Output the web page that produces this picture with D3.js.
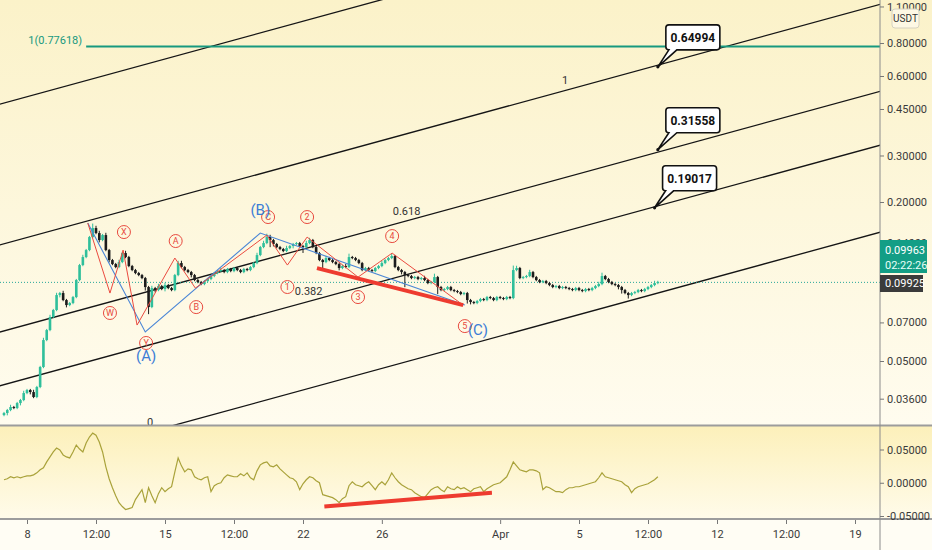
<!DOCTYPE html>
<html>
<head>
<meta charset="utf-8">
<script src="https://cdnjs.cloudflare.com/ajax/libs/d3/7.8.5/d3.min.js"></script>
<style>
  body { margin: 0; background: #fffdf4; }
  svg { display: block; font-family: Roboto, "DejaVu Sans", sans-serif; }
</style>
</head>
<body>
<div id="chart"></div>
<script>
// ---- data ----
const firstCandle = "2021-03-06 20:00";   // 4h candles, open = previous close
const firstOpen = 0.0312;
const closes = [
  0.03176,0.03260,0.03347,0.03318,0.03465,0.03557,0.03781,0.03881,0.03814,0.03652,
  0.03985,0.04744,0.06002,0.06548,0.07335,0.07796,0.08885,0.09041,0.08506,0.08143,
  0.08287,0.08731,0.10126,0.11541,0.12375,0.13153,0.14732,0.15934,0.15254,0.14351,
  0.14991,0.13153,0.12055,0.11642,0.11342,0.11847,0.12814,0.12375,0.11441,0.11048,
  0.10763,0.10577,0.10304,0.09527,0.08003,0.09444,0.09280,0.09610,0.09363,0.09694,
  0.09444,0.09280,0.10577,0.11744,0.11342,0.11048,0.10857,0.10577,0.10126,0.09951,
  0.09779,0.10038,0.10215,0.10485,0.10763,0.10952,0.11048,0.10857,0.11146,0.10952,
  0.11244,0.11048,0.10857,0.11146,0.11048,0.11342,0.11744,0.12592,0.13502,0.13981,
  0.14732,0.14351,0.13859,0.13502,0.13269,0.13039,0.13385,0.13620,0.13859,0.13981,
  0.13620,0.13502,0.13981,0.14351,0.13502,0.12814,0.12055,0.11847,0.12268,0.12055,
  0.11847,0.11642,0.11244,0.11441,0.11342,0.12375,0.12268,0.12055,0.11744,0.11048,
  0.11244,0.11048,0.10952,0.11244,0.11441,0.11744,0.12055,0.12268,0.12483,0.11342,
  0.11048,0.10857,0.10577,0.10485,0.10304,0.10394,0.10215,0.10304,0.10126,0.09865,
  0.09951,0.10394,0.09527,0.09280,0.09363,0.09527,0.09280,0.09199,0.09120,0.08962,
  0.09041,0.08506,0.08359,0.08287,0.08432,0.08580,0.08506,0.08731,0.08655,0.08506,
  0.08731,0.08655,0.08580,0.08731,0.08655,0.11048,0.11244,0.10304,0.10394,0.10485,
  0.10857,0.10394,0.10126,0.09951,0.10038,0.09865,0.09694,0.09527,0.09610,0.09444,
  0.09527,0.09444,0.09363,0.09280,0.09444,0.09280,0.09199,0.09363,0.09280,0.09444,
  0.09610,0.09779,0.10485,0.10215,0.09951,0.09779,0.09694,0.09527,0.09280,0.09041,
  0.08885,0.09041,0.09120,0.09280,0.09199,0.09363,0.09527,0.09694,0.09865,0.09963
];
// wick length beyond the body, percent of price
const wickUpPct = [
  1,1,2,1,1,1,2,1,1,2, 1,1,2,1,2,1,2,1,2,1, 1,1,1,1,2,1,1,4,2,2, 1,2,1,1,1,2,1,2,1,1,
  1,1,1,1,1,2,1,2,1,2, 1,1,1,2,2,1,1,1,1,1, 1,1,1,1,1,1,2,1,1,1, 1,1,1,1,1,1,1,2,1,2,
  3,2,1,1,1,1,2,1,1,1, 1,1,2,2,1,1,1,1,2,1, 1,1,1,1,2,3,1,1,1,1, 1,1,1,1,1,2,1,1,2,1,
  1,1,1,1,1,1,1,1,2,1, 1,3,1,1,1,1,1,1,1,1, 1,1,1,1,1,1,1,1,1,1, 1,1,1,1,1,4,2,1,1,1,
  2,1,1,1,1,1,1,1,1,1, 1,1,1,1,1,1,1,1,1,1, 1,2,3,1,1,1,1,1,1,1, 1,1,1,1,1,1,1,1,2,1
];
const wickDnPct = [
  1,2,1,1,1,2,1,1,2,1, 1,1,1,1,1,1,1,2,1,2, 1,1,1,1,1,1,1,1,1,2, 1,1,2,1,1,1,1,1,1,1,
  1,1,1,3,6,1,2,1,1,2, 1,1,1,1,1,1,1,2,1,1, 1,1,1,1,1,1,1,1,1,1, 1,1,1,1,1,1,1,1,1,1,
  1,6,2,1,1,1,1,1,2,1, 1,5,1,1,1,1,1,6,1,1, 1,1,2,1,1,1,1,1,1,1, 1,1,1,1,1,1,1,1,1,1,
  1,2,10,1,1,1,1,1,1,1, 1,1,6,1,1,1,1,1,1,1, 1,3,2,1,1,1,1,1,1,1, 1,1,1,1,1,1,1,1,1,1,
  1,1,1,1,1,1,1,1,1,1, 1,1,1,1,1,1,1,1,1,1, 1,1,1,1,1,1,1,2,3,1, 3,1,1,1,1,1,1,1,1,1
];
const oscValues = [
  0.0045,0.0060,0.0090,0.0075,0.0090,0.0075,0.0090,0.0104,0.0104,0.0119,
  0.0149,0.0194,0.0224,0.0313,0.0388,0.0463,0.0522,0.0493,0.0418,0.0388,
  0.0373,0.0463,0.0567,0.0507,0.0463,0.0597,0.0687,0.0746,0.0716,0.0612,
  0.0463,0.0239,0.0060,-0.0075,-0.0194,-0.0299,-0.0358,-0.0403,-0.0388,-0.0373,
  -0.0254,-0.0179,-0.0104,-0.0299,-0.0075,-0.0194,-0.0299,-0.0164,-0.0075,-0.0134,
  -0.0090,-0.0060,0.0164,0.0373,0.0254,0.0164,0.0209,0.0194,0.0090,0.0060,
  0.0045,0.0075,0.0090,-0.0134,-0.0045,-0.0015,0.0000,0.0075,0.0119,0.0104,
  0.0090,0.0090,0.0134,0.0104,0.0149,0.0075,0.0045,0.0179,0.0269,0.0299,
  0.0313,0.0254,0.0239,0.0269,0.0209,0.0164,0.0119,0.0075,0.0060,0.0015,
  -0.0104,-0.0015,0.0045,0.0090,0.0075,0.0030,0.0000,-0.0179,-0.0194,-0.0209,
  -0.0224,-0.0254,-0.0299,-0.0239,-0.0209,-0.0045,0.0015,-0.0030,-0.0045,-0.0060,
  -0.0015,0.0015,-0.0045,-0.0104,-0.0030,0.0015,-0.0030,0.0045,0.0149,0.0075,
  0.0015,-0.0030,-0.0060,-0.0090,-0.0104,-0.0149,-0.0179,-0.0209,-0.0224,-0.0164,
  -0.0104,-0.0075,-0.0060,-0.0104,-0.0134,-0.0060,-0.0090,-0.0104,-0.0060,-0.0090,
  -0.0075,-0.0104,-0.0134,-0.0090,-0.0075,-0.0060,-0.0134,-0.0090,-0.0060,-0.0030,
  -0.0015,0.0000,0.0045,0.0090,0.0194,0.0313,0.0254,0.0194,0.0179,0.0164,
  0.0194,0.0194,0.0179,0.0149,-0.0104,-0.0060,-0.0075,-0.0104,-0.0134,-0.0134,
  -0.0149,-0.0104,-0.0075,-0.0075,-0.0060,-0.0060,-0.0045,-0.0030,-0.0015,0.0000,
  0.0015,0.0075,0.0149,0.0090,0.0075,0.0060,0.0045,0.0030,0.0015,-0.0030,
  -0.0060,-0.0149,-0.0090,-0.0060,-0.0045,-0.0030,-0.0015,0.0015,0.0045,0.0090
];

const priceTicks = [1.1, 0.8, 0.6, 0.45, 0.3, 0.2, 0.14, 0.07, 0.05, 0.036];
const oscTicks = [0.05, 0, -0.05];
const timeTicks = ["2021-03-08 00:00","2021-03-11 12:00","2021-03-15 00:00","2021-03-18 12:00",
  "2021-03-22 00:00","2021-03-26 00:00","2021-04-01 00:00","2021-04-05 00:00",
  "2021-04-08 12:00","2021-04-12 00:00","2021-04-15 12:00","2021-04-19 00:00"];
const timeTickLabels = ["8","12:00","15","12:00","22","26","Apr","5","12:00","12","12:00","19"];

// fib channel (log price): level 0 line through two points, width of level 1 in decades
const channelBase = [["2021-03-15 12:00", 0.02861], ["2021-04-19 00:00", 0.1447]];
const channelWidth = 0.863;
const channelLevels = [0, 0.382, 0.618, 1, 1.618];
const labelledLevels = [0, 0.382, 0.618, 1];
const channelLabelTimes = ["2021-03-14 06:00", "2021-04-04 07:00"]; // label of level 0 and level 1

const fibLevelPrice = 0.77618, fibLevelStart = "2021-03-11 00:00";
const lastPrice = 0.09963, markPrice = 0.09925, countdown = "02:22:26";

const calloutValues = [0.64994, 0.31558, 0.19017];
const calloutTimes = ["2021-04-09 00:00", "2021-04-09 00:00", "2021-04-08 20:00"];

const blueWave = [["2021-03-11 02:00",0.1664],["2021-03-14 00:00",0.0644],["2021-03-19 20:00",0.1525],["2021-03-30 05:00",0.0814]];
const redWaveWXY = [["2021-03-11 02:00",0.1664],["2021-03-12 05:00",0.0904],["2021-03-12 21:00",0.1315],["2021-03-13 14:00",0.0684]];
const redWaveABC = [["2021-03-13 14:00",0.0684],["2021-03-15 12:00",0.1227],["2021-03-16 13:00",0.0944],["2021-03-20 04:00",0.1499]];
const redWave15 = [["2021-03-20 04:00",0.1499],["2021-03-21 05:00",0.1154],["2021-03-22 05:00",0.1473],["2021-03-24 19:00",0.1039],["2021-03-26 12:30",0.1281],["2021-03-30 03:00",0.0814]];
const circleLabels = [["W","2021-03-12 05:00",0.0760],["X","2021-03-12 22:00",0.1539],["Y","2021-03-14 01:00",0.0585],
  ["A","2021-03-15 13:00",0.1423],["B","2021-03-16 14:00",0.0800],["C","2021-03-20 05:30",0.1754],
  ["1","2021-03-21 05:00",0.0953],["2","2021-03-22 05:00",0.1754],["3","2021-03-24 19:00",0.0873],
  ["4","2021-03-26 12:30",0.1486],["5","2021-03-30 05:00",0.0678]];
const blueLabels = [["(A)","2021-03-14 01:00",0.0522],["(B)","2021-03-19 20:00",0.1864],["(C)","2021-03-30 21:00",0.0655]];
const priceDivergence = [["2021-03-22 17:00",0.1124],["2021-03-30 03:00",0.0814]];
const oscDivergence = [["2021-03-23 02:00",-0.0358],["2021-03-31 14:00",-0.0149]];

// ---- drawing ----
const W = 932, H = 550, axisX = 880, paneBottom = 425, oscTop = 426, oscBottom = 519;
const parse = d3.utcParse("%Y-%m-%d %H:%M");
const x = d3.scaleUtc().domain([parse("2021-03-08 00:00"), parse("2021-04-19 00:00")]).range([27, 855]);
const y = d3.scaleLog().domain([0.8, 0.2]).range([43, 202]);
const yOsc = d3.scaleLinear().domain([0.05, -0.05]).range([449.5, 516]);

const svg = d3.select("#chart").append("svg").attr("width", W).attr("height", H);
const defs = svg.append("defs");

function grad(id, c1, c2) {
  const g = defs.append("linearGradient").attr("id", id).attr("x1", 0).attr("y1", 0).attr("x2", 0).attr("y2", 1);
  g.append("stop").attr("offset", "0%").attr("stop-color", c1);
  g.append("stop").attr("offset", "100%").attr("stop-color", c2);
}
grad("bgMain", "#fbf2c9", "#fffcef");
grad("bgOsc", "#fcf0ba", "#fffbea");
defs.append("clipPath").attr("id", "clipMain").append("rect").attr("x", 0).attr("y", 0).attr("width", axisX).attr("height", paneBottom);
defs.append("clipPath").attr("id", "clipOsc").append("rect").attr("x", 0).attr("y", oscTop).attr("width", axisX).attr("height", oscBottom - oscTop);

svg.append("rect").attr("width", W).attr("height", H).attr("fill", "#fffdf4");
svg.append("rect").attr("width", W).attr("height", paneBottom).attr("fill", "url(#bgMain)");
svg.append("rect").attr("y", oscTop).attr("width", W).attr("height", oscBottom - oscTop).attr("fill", "url(#bgOsc)");

const main = svg.append("g").attr("clip-path", "url(#clipMain)");

// fib channel
const pA = [x(parse(channelBase[0][0])), y(channelBase[0][1])];
const pB = [x(parse(channelBase[1][0])), y(channelBase[1][1])];
const slope = (pB[1] - pA[1]) / (pB[0] - pA[0]);
const lvlOffset = L => y(channelBase[0][1] * Math.pow(10, channelWidth * L)) - pA[1];
const chanY = (px, L) => pA[1] + slope * (px - pA[0]) + lvlOffset(L);
const lx0 = x(parse(channelLabelTimes[0])), lx1 = x(parse(channelLabelTimes[1]));
channelLevels.forEach(L => {
  main.append("line")
    .attr("x1", -5).attr("y1", chanY(-5, L))
    .attr("x2", axisX + 5).attr("y2", chanY(axisX + 5, L))
    .attr("stroke", "#151515").attr("stroke-width", 1.3);
});
labelledLevels.forEach(L => {
  const lx = lx0 + L * (lx1 - lx0);
  main.append("text")
    .attr("x", lx).attr("y", chanY(lx, L) - 6)
    .attr("text-anchor", "middle")
    .style("font-size", "11px").style("fill", "#333")
    .text(String(L));
});

// fib retracement level
const fy = y(fibLevelPrice);
main.append("line").attr("x1", x(parse(fibLevelStart))).attr("x2", axisX).attr("y1", fy).attr("y2", fy)
  .attr("stroke", "#17997f").attr("stroke-width", 2);
main.append("text").attr("x", x(parse(fibLevelStart)) - 4).attr("y", fy - 2)
  .attr("text-anchor", "end").style("font-size", "11px").style("fill", "#17997f")
  .text("1(" + fibLevelPrice + ")");

// last price dotted line
main.append("line").attr("x1", 0).attr("x2", axisX).attr("y1", y(markPrice)).attr("y2", y(markPrice))
  .attr("stroke", "#26a69a").attr("stroke-width", 1).attr("stroke-dasharray", "1,2");

// candles
const t0 = parse(firstCandle);
const candles = closes.map((c, i) => {
  const open = i === 0 ? firstOpen : closes[i - 1];
  return {
    t: d3.utcHour.offset(t0, 4 * i),
    open, close: c,
    high: Math.max(open, c) * (1 + wickUpPct[i] / 100),
    low: Math.min(open, c) * (1 - wickDnPct[i] / 100)
  };
});
const upCol = "#2fbf9b", dnCol = "#1c1c1c";
const cg = main.selectAll(".candle").data(candles).enter().append("g").attr("class", "candle");
cg.append("line")
  .attr("x1", d => x(d.t)).attr("x2", d => x(d.t))
  .attr("y1", d => y(d.high)).attr("y2", d => y(d.low))
  .attr("stroke", d => d.close >= d.open ? upCol : dnCol).attr("stroke-width", 1);
cg.append("rect")
  .attr("x", d => x(d.t) - 1.3).attr("width", 2.6)
  .attr("y", d => y(Math.max(d.open, d.close)))
  .attr("height", d => Math.max(1, y(Math.min(d.open, d.close)) - y(Math.max(d.open, d.close))))
  .attr("fill", d => d.close >= d.open ? upCol : dnCol);

// wave counts
const waveLine = d3.line().x(d => x(parse(d[0]))).y(d => y(d[1]));
main.append("path").attr("d", waveLine(blueWave)).attr("fill", "none").attr("stroke", "#4a86d6").attr("stroke-width", 1.1);
[redWaveWXY, redWaveABC, redWave15].forEach(w => {
  main.append("path").attr("d", waveLine(w)).attr("fill", "none").attr("stroke", "#ea4a3f").attr("stroke-width", 1);
});
main.append("path").attr("d", waveLine(priceDivergence)).attr("fill", "none")
  .attr("stroke", "#ee3b2f").attr("stroke-width", 4);

circleLabels.forEach(([txt, t, p]) => {
  const cx = x(parse(t)), cy = y(p);
  main.append("circle").attr("cx", cx).attr("cy", cy).attr("r", 6.5)
    .attr("fill", "none").attr("stroke", "#e8493e").attr("stroke-width", 1);
  main.append("text").attr("x", cx).attr("y", cy).attr("dy", "0.35em").attr("text-anchor", "middle")
    .style("font-size", "9px").style("fill", "#e8493e").text(txt);
});
blueLabels.forEach(([txt, t, p]) => {
  main.append("text").attr("x", x(parse(t))).attr("y", y(p)).attr("dy", "0.35em").attr("text-anchor", "middle")
    .style("font-size", "15px").style("fill", "#3b7dd6").text(txt);
});

// callouts
calloutValues.forEach((v, i) => {
  const px = x(parse(calloutTimes[i])), py = y(v);
  const bx = px + 8, by = py - 42, bw = 54, bh = 25;
  const r = 3;
  const path = `M${bx + r},${by} H${bx + bw - r} Q${bx + bw},${by} ${bx + bw},${by + r} V${by + bh - r}
    Q${bx + bw},${by + bh} ${bx + bw - r},${by + bh} H${bx + 11} L${px},${py} L${bx + 3},${by + bh}
    H${bx + r} Q${bx},${by + bh} ${bx},${by + bh - r} V${by + r} Q${bx},${by} ${bx + r},${by} Z`;
  main.append("path").attr("d", path).attr("fill", "#ffffff").attr("stroke", "#111").attr("stroke-width", 1.6);
  main.append("circle").attr("cx", px).attr("cy", py).attr("r", 1.6).attr("fill", "#111");
  main.append("text").attr("x", bx + bw / 2).attr("y", by + bh / 2).attr("dy", "0.36em")
    .attr("text-anchor", "middle").style("font-size", "12px").style("font-weight", "bold")
    .style("fill", "#111").text(v.toFixed(5));
});

// oscillator pane
const osc = svg.append("g").attr("clip-path", "url(#clipOsc)");
osc.append("path")
  .attr("d", d3.line().x((d, i) => x(d3.utcHour.offset(t0, 4 * i))).y(d => yOsc(d))(oscValues))
  .attr("fill", "none").attr("stroke", "#a9a23a").attr("stroke-width", 1.2);
osc.append("path")
  .attr("d", d3.line().x(d => x(parse(d[0]))).y(d => yOsc(d[1]))(oscDivergence))
  .attr("fill", "none").attr("stroke", "#ee3b2f").attr("stroke-width", 4);

// pane separators and price axis line
svg.append("line").attr("x1", 0).attr("x2", W).attr("y1", paneBottom + 0.5).attr("y2", paneBottom + 0.5)
  .attr("stroke", "#9c9c9c").attr("stroke-width", 2);
svg.append("line").attr("x1", 0).attr("x2", W).attr("y1", oscBottom).attr("y2", oscBottom)
  .attr("stroke", "#9c9c9c").attr("stroke-width", 2);
svg.append("line").attr("x1", axisX).attr("x2", axisX).attr("y1", 0).attr("y2", H)
  .attr("stroke", "#8c8c8c").attr("stroke-width", 1);

function styleAxis(g) {
  g.select(".domain").remove();
  g.selectAll(".tick line").attr("stroke", "#777");
  g.selectAll(".tick text").style("font-size", "11px").style("fill", "#3a3a3a").style("font-family", "Roboto, sans-serif");
}
svg.append("g").attr("transform", `translate(${axisX},0)`)
  .call(d3.axisRight(y).tickValues(priceTicks).tickFormat(d3.format(".5f")).tickSize(4).tickPadding(3))
  .call(styleAxis);
svg.append("g").attr("transform", `translate(${axisX},0)`)
  .call(d3.axisRight(yOsc).tickValues(oscTicks).tickFormat(d => d3.format(".5f")(d).replace("−", "-")).tickSize(4).tickPadding(3))
  .call(styleAxis);
const tickDates = timeTicks.map(parse);
svg.append("g").attr("transform", `translate(0,${oscBottom + 1})`)
  .call(d3.axisBottom(x).tickValues(tickDates).tickFormat((d, i) => timeTickLabels[i]).tickSize(4).tickPadding(6))
  .call(styleAxis);

// USDT badge
svg.append("rect").attr("x", 892).attr("y", 9).attr("width", 27).attr("height", 19).attr("rx", 3)
  .attr("fill", "#fdf8e4").attr("stroke", "#d6d2c0");
svg.append("text").attr("x", 905.5).attr("y", 18.5).attr("dy", "0.35em").attr("text-anchor", "middle")
  .style("font-size", "10px").style("fill", "#333").text("USDT");

// price labels on the axis
svg.append("rect").attr("x", axisX).attr("y", 240).attr("width", 47).attr("height", 33).attr("fill", "#139e86");
svg.append("text").attr("x", axisX + 5).attr("y", 250).attr("dy", "0.35em")
  .style("font-size", "11px").style("fill", "#fff").text(lastPrice.toFixed(5));
svg.append("text").attr("x", axisX + 5).attr("y", 265).attr("dy", "0.35em")
  .style("font-size", "11px").style("fill", "#e8fff8").text(countdown);
svg.append("rect").attr("x", axisX).attr("y", 275).attr("width", 43).attr("height", 17).attr("fill", "#3b3b3b");
svg.append("text").attr("x", axisX + 5).attr("y", 283.5).attr("dy", "0.35em")
  .style("font-size", "11px").style("fill", "#fff").text(markPrice.toFixed(5));
</script>
</body>
</html>
